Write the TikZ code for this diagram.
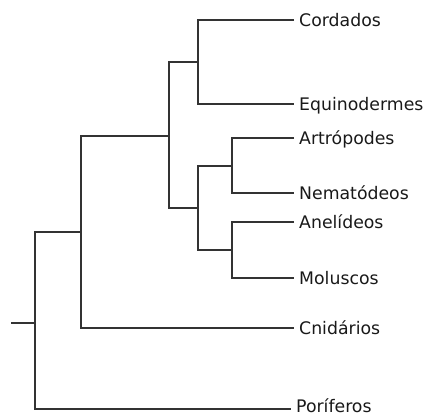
\documentclass[tikz,border=0pt]{standalone}
\usepackage{fontspec}
\setmainfont{DejaVu Sans}
\begin{document}
\begin{tikzpicture}[x=1pt,y=-1pt,
  branch/.style={draw=black!80,line width=1.2pt},
  taxon/.style={anchor=west,inner xsep=5pt,inner ysep=0pt,text height=13pt,text depth=0pt,
    font=\fontsize{17.3}{19}\selectfont,text=black!90}]
\useasboundingbox (0,0) rectangle (425,416);
% leaves
\node[taxon] (cord) at (294,20) {Cordados};
\node[taxon] (equi) at (294,104) {Equinodermes};
\node[taxon] (art)  at (294,138) {Artrópodes};
\node[taxon] (nem)  at (294,193) {Nematódeos};
\node[taxon] (ane)  at (294,222) {Anelídeos};
\node[taxon] (mol)  at (294,278) {Moluscos};
\node[taxon] (cni)  at (294,328) {Cnidários};
\node[taxon,text height=7pt] (por)  at (291,409) {Poríferos};
% internal nodes
\coordinate (root) at (11,323);
\coordinate (n1) at (35,323);
\coordinate (n2) at (81,232);
\coordinate (n3) at (169,136);
\coordinate (n4) at (198,62);
\coordinate (n5) at (198,208);
\coordinate (n6) at (232,166);
\coordinate (n7) at (232,250);
% branches
\draw[branch] (root) -- (n1);
\draw[branch] (n2) -| (n1) |- (por.west);
\draw[branch] (n3) -| (n2) |- (cni.west);
\draw[branch] (n4) -| (n3) |- (n5);
\draw[branch] (cord.west) -| (n4) |- (equi.west);
\draw[branch] (n6) -| (n5) |- (n7);
\draw[branch] (art.west) -| (n6) |- (nem.west);
\draw[branch] (ane.west) -| (n7) |- (mol.west);
\end{tikzpicture}
\end{document}
